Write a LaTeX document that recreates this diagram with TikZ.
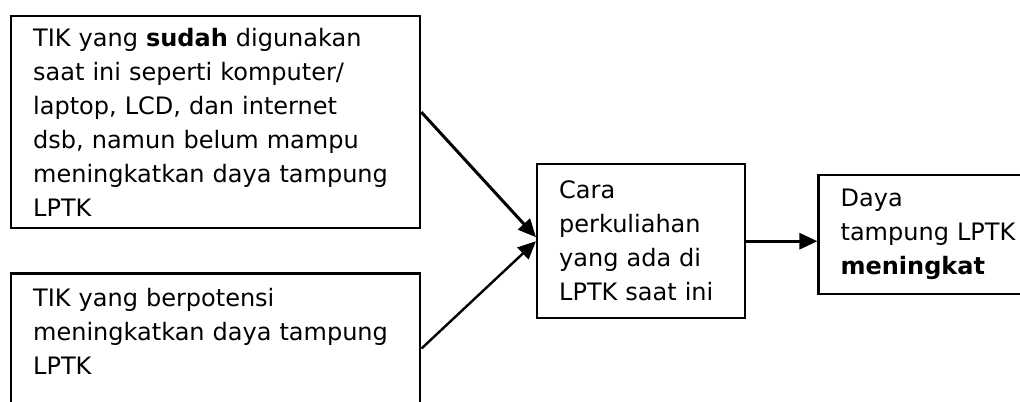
\documentclass[tikz,border=0pt]{standalone}
\usepackage{fontspec}
\setmainfont{DejaVu Sans}
\usepackage{tikz}
\usetikzlibrary{arrows.meta,positioning}
\tikzset{
  tikbox/.style={draw=black,line width=1.2pt,align=left,inner xsep=11pt,
    inner ysep=3pt,font=\fontsize{12}{17}\selectfont},
  flowarrow/.style={-{Triangle[length=9pt,width=8pt]},line width=1.5pt}
}

\begin{document}
\begin{tikzpicture}
  \useasboundingbox (0,0) rectangle (510pt,-200.5pt);
  \node[tikbox,anchor=north west,text width=182.5pt,minimum height=106pt] (sudah) at (5pt,-7.5pt)
    {TIK yang \textbf{sudah} digunakan\\ saat ini seperti komputer/\\ laptop, LCD, dan internet\\
     dsb, namun belum mampu\\ meningkatkan daya tampung\\ LPTK};
  \node[tikbox,below=21.5pt of sudah.south west,anchor=north west,text width=182.5pt,minimum height=75pt] (potensi)
    {TIK yang berpotensi\\ meningkatkan daya tampung\\ LPTK\\ \mbox{}};
  \node[tikbox,anchor=north west,text width=82pt,minimum height=77pt] (cara) at (268pt,-81.5pt)
    {Cara\\ perkuliahan\\ yang ada di\\ LPTK saat ini};
  \node[tikbox,right=35.5pt of cara.north east,anchor=north west,yshift=-5.5pt,text width=90pt,minimum height=59.5pt] (daya)
    {Daya\\ tampung LPTK\\ \textbf{meningkat}};
  \draw[flowarrow] ([yshift=5pt]sudah.east) -- ([yshift=2pt]cara.west);
  \draw[flowarrow,line width=1.2pt] (potensi.east) -- (cara.west);
  \draw[flowarrow] (cara.east) -- (cara.east -| daya.west);
\end{tikzpicture}
\end{document}
